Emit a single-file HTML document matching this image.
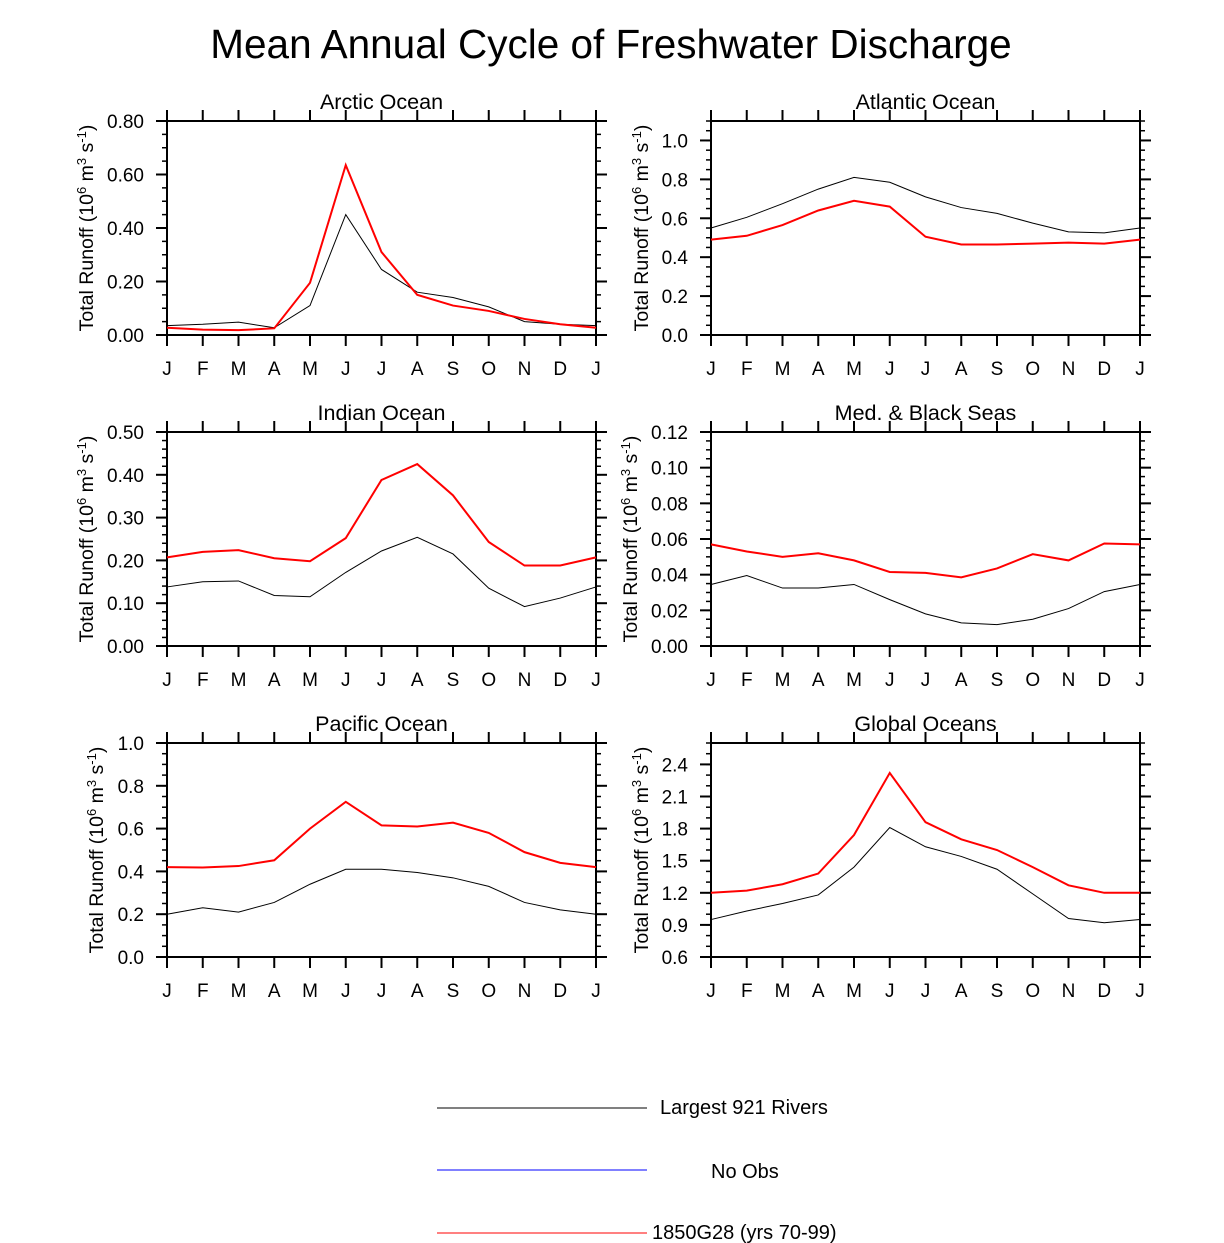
<!DOCTYPE html>
<html><head><meta charset="utf-8"><style>
body{margin:0;background:#fff;}
svg{display:block;font-family:"Liberation Sans",sans-serif;}
</style></head><body>
<svg id="c" width="1224" height="1243" viewBox="0 0 1224 1243">
<text x="611" y="58" font-size="40.5" text-anchor="middle">Mean Annual Cycle of Freshwater Discharge</text>
<g>
<line x1="437" y1="1108" x2="647" y2="1108" stroke="#000" stroke-width="1"/>
<text x="660" y="1114" font-size="20">Largest 921 Rivers</text>
<line x1="437" y1="1170" x2="647" y2="1170" stroke="#00f" stroke-width="1"/>
<text x="711" y="1178" font-size="20">No Obs</text>
<line x1="437" y1="1233" x2="647" y2="1233" stroke="#f00" stroke-width="1"/>
<text x="652" y="1239" font-size="20">1850G28 (yrs 70-99)</text>
</g>
</svg>
<script>
const months=["J","F","M","A","M","J","J","A","S","O","N","D","J"];
const arcticObs=[.035,.04,.048,.027,.11,.45,.245,.16,.14,.105,.05,.04,.035];
const arcticMod=[.027,.02,.018,.025,.195,.635,.31,.15,.11,.09,.06,.04,.027];
const atlObs=[.55,.605,.675,.75,.81,.785,.71,.655,.625,.575,.53,.525,.55];
const atlMod=[.49,.51,.565,.64,.69,.66,.505,.465,.465,.47,.475,.47,.49];
const indObs=[.138,.15,.152,.118,.115,.172,.222,.254,.215,.135,.092,.112,.138];
const indMod=[.207,.22,.224,.205,.198,.252,.388,.425,.352,.243,.188,.188,.207];
const medObs=[.0345,.0395,.0325,.0325,.0345,.026,.018,.013,.012,.015,.021,.0305,.0345];
const medMod=[.057,.053,.050,.052,.048,.0415,.041,.0385,.0435,.0515,.048,.0575,.057];
const pacObs=[.2,.23,.21,.255,.34,.41,.41,.395,.37,.33,.255,.22,.2];
const pacMod=[.42,.418,.425,.452,.6,.725,.615,.61,.628,.58,.49,.44,.42];
const gloObs=[.95,1.03,1.1,1.18,1.44,1.81,1.63,1.54,1.42,1.19,.96,.92,.95];
const gloMod=[1.2,1.22,1.28,1.38,1.74,2.32,1.86,1.7,1.6,1.44,1.27,1.2,1.2];
const arcticTicks=["0.00","0.20","0.40","0.60","0.80"];
const atlTicks=["0.0","0.2","0.4","0.6","0.8","1.0"];
const indTicks=["0.00","0.10","0.20","0.30","0.40","0.50"];
const medTicks=["0.00","0.02","0.04","0.06","0.08","0.10","0.12"];
const pacTicks=["0.0","0.2","0.4","0.6","0.8","1.0"];
const gloTicks=["0.6","0.9","1.2","1.5","1.8","2.1","2.4"];

const NS="http://www.w3.org/2000/svg";
const svg=document.getElementById('c');
function mk(tag,attrs,parent){const e=document.createElementNS(NS,tag);for(const k in attrs)e.setAttribute(k,attrs[k]);(parent||svg).appendChild(e);return e;}

const panels=[
 {name:"arctic",title:"Arctic Ocean",x:167,y:121,min:0,max:0.8,minor:0.05,ticks:arcticTicks,obs:arcticObs,mod:arcticMod,tx:93},
 {name:"atlantic",title:"Atlantic Ocean",x:711,y:121,min:0,max:1.1,minor:0.05,ticks:atlTicks,obs:atlObs,mod:atlMod,tx:648},
 {name:"indian",title:"Indian Ocean",x:167,y:432,min:0,max:0.5,minor:0.02,ticks:indTicks,obs:indObs,mod:indMod,tx:93},
 {name:"med",title:"Med. & Black Seas",x:711,y:432,min:0,max:0.12,minor:0.005,ticks:medTicks,obs:medObs,mod:medMod,tx:637},
 {name:"pacific",title:"Pacific Ocean",x:167,y:743,min:0,max:1.0,minor:0.05,ticks:pacTicks,obs:pacObs,mod:pacMod,tx:103},
 {name:"global",title:"Global Oceans",x:711,y:743,min:0.6,max:2.6,minor:0.1,ticks:gloTicks,obs:gloObs,mod:gloMod,tx:648}
];
const W=429,H=214;
panels.forEach(p=>{
 const g=mk('g',{});
 
 
 const xs=i=>p.x+i*W/12;
 const ys=v=>p.y+H-(v-p.min)/(p.max-p.min)*H;
 const t=mk('text',{x:p.x+W/2,y:p.y-12,'font-size':21.5,'text-anchor':'middle'},g);t.textContent=p.title;
 
 
 const nMin=Math.round((p.max-p.min)/p.minor);
 for(let k=0;k<=nMin;k++){const y=ys(p.min+k*p.minor);
  mk('line',{x1:p.x-5,x2:p.x,y1:y,y2:y,stroke:'#000','stroke-width':1.5},g);
  mk('line',{x1:p.x+W,x2:p.x+W+5,y1:y,y2:y,stroke:'#000','stroke-width':1.5},g);}
 p.ticks.forEach(l=>{const y=ys(parseFloat(l));
  mk('line',{x1:p.x-11,x2:p.x,y1:y,y2:y,stroke:'#000','stroke-width':2},g);
  mk('line',{x1:p.x+W,x2:p.x+W+11,y1:y,y2:y,stroke:'#000','stroke-width':2},g);
  const tl=mk('text',{x:p.x-23,y:y+7,'font-size':19,'text-anchor':'end'},g);tl.textContent=l;
  
  });
 months.forEach((m,i)=>{const x=xs(i);
  mk('line',{x1:x,x2:x,y1:p.y+H,y2:p.y+H+11,stroke:'#000','stroke-width':2},g);
  mk('line',{x1:x,x2:x,y1:p.y-11,y2:p.y,stroke:'#000','stroke-width':2},g);
  const tl=mk('text',{x:x,y:p.y+H+40,'font-size':19,'text-anchor':'middle'},g);tl.textContent=m;
  
  });
 mk('rect',{x:p.x,y:p.y,width:W,height:H,fill:'none',stroke:'#000','stroke-width':2},g);
 const cy=p.y+H/2;
 const yt=mk('text',{x:p.tx,y:cy,'font-size':19.5,'text-anchor':'middle',transform:`rotate(-90 ${p.tx} ${cy})`},g);
 yt.innerHTML='Total Runoff (10<tspan dy="-7" font-size="13">6</tspan><tspan dy="7"> m</tspan><tspan dy="-7" font-size="13">3</tspan><tspan dy="7"> s</tspan><tspan dy="-7" font-size="13">-1</tspan><tspan dy="7">)</tspan>';
 
 
 const lo=mk('polyline',{points:p.obs.map((v,i)=>xs(i)+','+ys(v)).join(' '),fill:'none',stroke:'#000','stroke-width':1},g);
 
 
 const lm=mk('polyline',{points:p.mod.map((v,i)=>xs(i)+','+ys(v)).join(' '),fill:'none',stroke:'#f00','stroke-width':2},g);
 
 
});
</script>
</body></html>
